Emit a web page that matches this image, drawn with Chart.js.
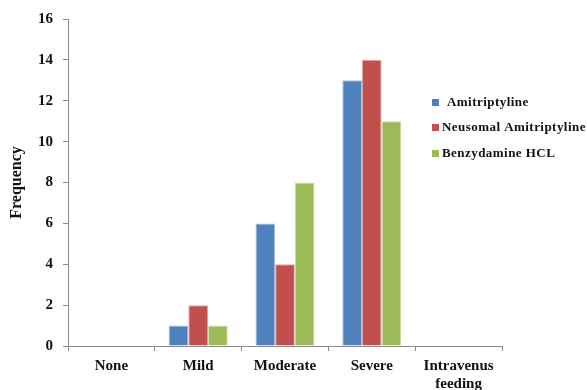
<!DOCTYPE html>
<html>
<head>
<meta charset="utf-8">
<script src="https://cdn.jsdelivr.net/npm/chart.js@4.4.1/dist/chart.umd.min.js"></script>
<style>
  html, body { margin: 0; padding: 0; background: #fff; }
  #wrap { width: 587px; height: 390px; position: relative; }
</style>
</head>
<body>
<div id="wrap"><canvas id="c" width="587" height="390"></canvas></div>
<script>
// Severity categories and frequency per treatment group
const categories = ['None', 'Mild', 'Moderate', 'Severe', ['Intravenus', 'feeding']];
const seriesNames = ['Amitriptyline', 'Neusomal Amitriptyline', 'Benzydamine HCL'];
const amitriptyline = [0, 1, 6, 13, 0];
const neusomalAmitriptyline = [0, 2, 4, 14, 0];
const benzydamineHCL = [0, 1, 8, 11, 0];
const yTicks = [0, 2, 4, 6, 8, 10, 12, 14, 16];

const fills = ['#4F81BD', '#C0504D', '#9BBB59'];
const edges = ['#A3BEE0', '#DDA3A1', '#CBDEA8'];
const serif = '"Liberation Serif", "Times New Roman", serif';

// Legend drawn as a floating box overlapping the plot's right side
const floatingLegend = {
  id: 'floatingLegend',
  afterDraw(chart) {
    const ctx = chart.ctx;
    const x0 = 432, ys = [103, 128, 154];
    ctx.save();
    ctx.font = 'bold 13px ' + serif;
    ctx.letterSpacing = '0.45px';
    ctx.textBaseline = 'middle';
    chart.data.datasets.forEach((ds, i) => {
      ctx.fillStyle = ds.backgroundColor;
      ctx.fillRect(x0, ys[i] - 4, 7, 7);
      ctx.fillStyle = '#111';
      ctx.fillText(ds.label, x0 + (i === 0 ? 15 : 10), ys[i]);
    });
    ctx.restore();
  }
};

new Chart(document.getElementById('c'), {
  type: 'bar',
  data: {
    labels: categories,
    datasets: [amitriptyline, neusomalAmitriptyline, benzydamineHCL].map((d, i) => ({
      label: seriesNames[i],
      data: d,
      backgroundColor: fills[i],
      borderColor: edges[i],
      borderWidth: 1,
      categoryPercentage: 0.68,
      barPercentage: 1.0
    }))
  },
  options: {
    responsive: false,
    animation: false,
    layout: { padding: { top: 12, right: 85, bottom: 0, left: 0 } },
    plugins: { legend: { display: false }, tooltip: { enabled: false } },
    scales: {
      x: {
        offset: true,
        grid: { display: true, drawOnChartArea: false, drawTicks: true, tickLength: 5, color: '#8C8C8C', offset: true },
        border: { display: true, color: '#8C8C8C', width: 1 },
        ticks: { color: '#111', font: { family: serif, size: 15, weight: 'bold' }, padding: 6, maxRotation: 0, autoSkip: false },
        afterFit(s) { s.height = 44; }
      },
      y: {
        min: 0, max: 16,
        afterBuildTicks(s) { s.ticks = yTicks.map(v => ({ value: v })); },
        grid: { display: true, drawOnChartArea: false, drawTicks: true, tickLength: 5, color: '#8C8C8C' },
        border: { display: true, color: '#8C8C8C', width: 1 },
        ticks: { color: '#111', font: { family: serif, size: 15, weight: 'bold' }, padding: 10 },
        title: { display: true, text: 'Frequency', color: '#111', font: { family: serif, size: 16, weight: 'bold' }, padding: { top: 7, bottom: 0 } },
        afterFit(s) { s.width = 68; }
      }
    }
  },
  plugins: [floatingLegend]
});
</script>
</body>
</html>
